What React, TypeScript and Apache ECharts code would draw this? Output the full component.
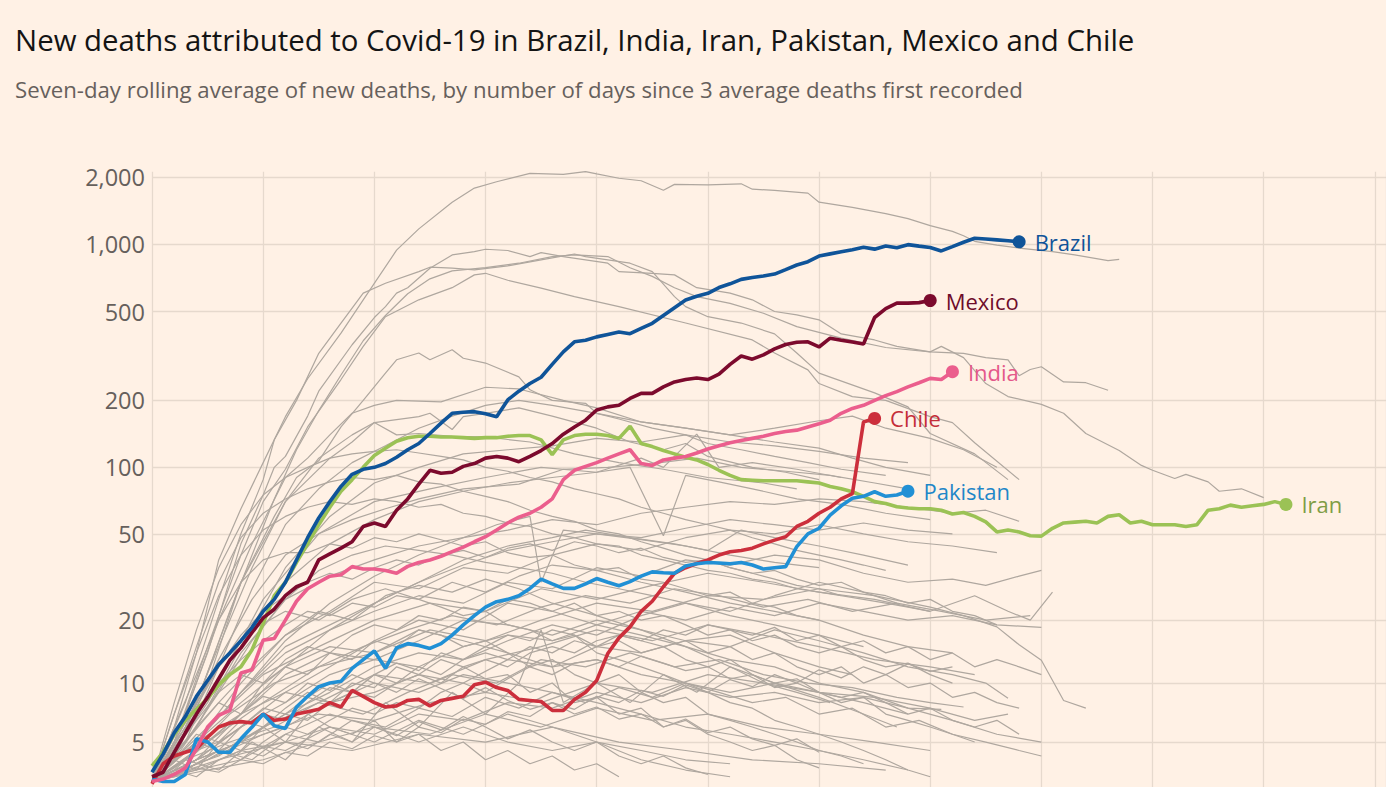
import React, { useEffect, useRef } from "react";
import * as echarts from "echarts";

// ---------- axis ticks ----------
const yTicks = [5, 10, 20, 50, 100, 200, 500, 1000, 2000];
const xMaxDay = 111;
const xInterval = 10;
const yBottomValue = 2.78;
const yTopValue = 2107;

// ---------- highlighted countries: [days since 3 avg deaths, 7-day avg deaths] ----------
const brazil = [[0,3.4],[1,4.3],[2,5.6],[3,6.8],[4,8.6],[5,10.3],[6,12.3],[7,14],[8,16],[9,18.5],[10,22],[11,25],[12,30],[13,38],[14,48],[15,59],[16,70],[17,82],[18,93],[19,98],[20,100],[21,104],[22,111],[23,120],[24,128],[25,142],[26,158],[27,175],[28,177],[29,178],[30,174],[31,169],[32,201],[33,220],[34,238],[35,254],[36,290],[37,330],[38,366],[39,372],[40,385],[41,395],[42,405],[43,398],[44,420],[45,443],[46,480],[47,520],[48,563],[49,585],[50,603],[51,640],[52,665],[53,696],[54,710],[55,721],[56,735],[57,770],[58,807],[59,835],[60,885],[61,905],[62,925],[63,945],[64,968],[65,950],[66,982],[67,963],[68,995],[69,980],[70,966],[71,933],[72,975],[73,1020],[74,1062],[75,1055],[76,1045],[77,1035],[78,1025]];
const mexico = [[0,3.2],[1,3.4],[2,4.4],[3,5.6],[4,7],[5,8.5],[6,10.5],[7,12.9],[8,14.8],[9,17.5],[10,20.5],[11,22.5],[12,26],[13,28.6],[14,30],[15,38],[16,40.5],[17,43],[18,46],[19,54],[20,56],[21,54],[22,64],[23,72],[24,84],[25,97],[26,94],[27,95],[28,101],[29,104],[30,110],[31,112],[32,110],[33,106],[34,112],[35,119],[36,128],[37,141],[38,152],[39,163],[40,181],[41,187],[42,190],[43,204],[44,215],[45,215],[46,230],[47,242],[48,248],[49,252],[50,248],[51,262],[52,290],[53,316],[54,306],[55,320],[56,340],[57,356],[58,364],[59,366],[60,347],[61,380],[62,372],[63,365],[64,358],[65,470],[66,515],[67,545],[68,545],[69,548],[70,560]];
const india = [[0,3],[1,3.1],[2,3.3],[3,3.6],[4,4.6],[5,6],[6,6.9],[7,7.3],[8,11.2],[9,11.6],[10,16.1],[11,16.4],[12,20],[13,24.5],[14,28],[15,30],[16,32],[17,32.5],[18,35.4],[19,34.5],[20,34.5],[21,34],[22,33],[23,35.5],[24,37],[25,38],[26,39.5],[27,41.5],[28,43.5],[29,46],[30,48.5],[31,52],[32,56],[33,59.5],[34,62],[35,66],[36,72],[37,88],[38,97],[39,101],[40,105],[41,110],[42,115],[43,120],[44,104],[45,102],[46,108],[47,110],[48,112],[49,116],[50,121],[51,125],[52,129],[53,132],[54,135],[55,138],[56,142],[57,145],[58,147],[59,152],[60,157],[61,163],[62,175],[63,184],[64,190],[65,200],[66,210],[67,219],[68,230],[69,240],[70,251],[71,248],[72,269]];
const chile = [[0,2.9],[1,3.8],[2,4.2],[3,4.4],[4,4.6],[5,5.3],[6,6],[7,6.3],[8,6.4],[9,6.3],[10,7],[11,6.5],[12,6.6],[13,7],[14,7.2],[15,7.4],[16,8],[17,7.6],[18,9.2],[19,8.6],[20,8],[21,7.6],[22,7.7],[23,8.2],[24,8.3],[25,7.7],[26,8.2],[27,8.4],[28,8.6],[29,9.8],[30,10.1],[31,9.5],[32,9.2],[33,8.3],[34,8.2],[35,8.1],[36,7.3],[37,7.3],[38,8.3],[39,9],[40,10.3],[41,13.9],[42,16.5],[43,18.6],[44,22],[45,24.5],[46,28.6],[47,33],[48,35],[49,36.6],[50,38],[51,40],[52,41.4],[53,42],[54,43],[55,45],[56,46.8],[57,48.5],[58,54],[59,57],[60,62],[61,66],[62,72],[63,76],[64,160],[65,166]];
const pakistan = [[0,3.1],[1,3],[2,3],[3,3.3],[4,5.2],[5,5],[6,4.4],[7,4.4],[8,5.2],[9,6],[10,7],[11,6.1],[12,5.9],[13,7.6],[14,8.6],[15,9.6],[16,10],[17,10.2],[18,11.8],[19,13],[20,14.3],[21,11.8],[22,14.8],[23,15.5],[24,15.2],[25,14.7],[26,15.5],[27,17],[28,19],[29,21],[30,23],[31,24.4],[32,25],[33,26],[34,28.1],[35,31],[36,29.5],[37,28.1],[38,28.1],[39,29.5],[40,31.2],[41,30],[42,28.9],[43,30.2],[44,32],[45,33.5],[46,33.2],[47,33],[48,35.6],[49,36.5],[50,37],[51,36.8],[52,36.5],[53,37],[54,36],[55,34.5],[56,35],[57,35.4],[58,43.7],[59,50],[60,53],[61,60.8],[62,67],[63,72.5],[64,74],[65,77.6],[66,74],[67,75],[68,78]];
const iran = [[0,3.7],[1,4.4],[2,5.5],[3,6.5],[4,7.4],[5,8.4],[6,9.8],[7,11],[8,12],[9,14.5],[10,19.3],[11,26],[12,30],[13,37],[14,45],[15,55],[16,66],[17,78],[18,88],[19,100],[20,113],[21,122],[22,131],[23,136],[24,138],[25,138],[26,137],[27,137],[28,136],[29,135],[30,136],[31,136],[32,138],[33,139],[34,139],[35,133],[36,114],[37,133],[38,139],[39,141],[40,141],[41,139],[42,135],[43,153],[44,128],[45,124],[46,119],[47,115],[48,111],[49,108],[50,103],[51,97],[52,92],[53,88],[54,87.5],[55,87],[56,87],[57,87],[58,87],[59,86],[60,85],[61,82],[62,80],[63,77.6],[64,74],[65,70],[66,68.7],[67,66.3],[68,65.5],[69,65],[70,65],[71,64],[72,61.5],[73,62.5],[74,60],[75,56.7],[76,51],[77,52],[78,51],[79,49],[80,48.8],[81,53],[82,56],[83,56.5],[84,57],[85,56],[86,60],[87,61],[88,56],[89,57],[90,55],[91,55],[92,55],[93,54],[94,55],[95,64],[96,65],[97,67.5],[98,66],[99,67],[100,68],[101,70],[102,68]];

// ---------- other countries (grey) ----------
const o01 = [[0,3],[2,6],[4,14],[6,38],[8,65],[10,105],[12,169],[14,250],[17,400],[19,564],[22,940],[24,1170],[27,1540],[29,1780],[31,1900],[34,2070],[37,2050],[39,2110],[40,2060],[42,1970],[44,1920],[46,1740],[47,1850],[50,1840],[53,1860],[54,1760],[56,1740],[59,1690],[60,1540],[63,1460],[66,1370],[68,1300],[70,1210],[72,1140],[73,1090],[74,1030],[76,990],[78,960],[81,926],[83,895],[86,844],[87,855]];
const o02 = [[0,3],[2,5],[5,14],[8,45],[10,75],[11,100],[12,112],[14,170],[15,220],[18,355],[20,470],[21,526],[22,604],[23,639],[25,780],[27,895],[29,926],[30,949],[32,937],[34,880],[35,917],[37,880],[41,822],[42,754],[45,740],[47,729],[49,639],[52,604],[54,564],[56,500],[58,483],[60,459],[62,397],[65,373],[67,349],[70,330],[71,349],[73,311],[75,238],[77,208],[80,192],[82,175],[84,142],[87,119],[89,102],[90,97],[92,89],[93,93],[95,86],[96,78],[98,80],[100,73]];
const o03 = [[0,3],[3,8],[6,25],[8,50],[10,88],[11,133],[13,200],[15,325],[17,444],[19,604],[21,669],[24,754],[25,789],[27,781],[29,767],[32,800],[35,851],[38,904],[39,880],[41,851],[43,822],[45,754],[47,583],[48,526],[50,474],[53,444],[56,397],[58,326],[60,265],[65,216],[68,187],[70,142],[74,115],[77,88]];
const o04 = [[0,3],[2,5],[5,15],[8,40],[10,70],[12,98],[14,152],[17,248],[19,349],[21,474],[24,564],[27,639],[29,729],[30,741],[32,690],[35,636],[38,583],[42,526],[48,444],[54,373],[56,326],[59,274],[60,238],[63,208],[66,200],[70,169],[72,159],[74,129],[78,88]];
const o05 = [[0,3],[2,4],[4,8],[7,22],[9,40],[11,72],[13,120],[15,180],[17,260],[19,370],[21,480],[23,600],[25,700],[27,760],[30,785],[33,822],[36,880],[38,895],[41,880],[43,785],[45,718],[47,639],[49,583],[52,544],[55,491],[58,428],[62,380],[66,345],[70,330],[73,325],[75,311],[77,304],[78,258],[79,275],[80,283],[82,242],[84,240],[86,222]];
const o06 = [[0,3],[2,4],[5,10],[8,30],[11,60],[13,90],[15,107],[17,152],[19,200],[21,265],[22,304],[24,326],[25,304],[27,337],[28,309],[30,294],[33,255],[34,223],[36,200],[39,194],[40,175],[42,165],[45,150],[48,140],[50,128],[53,120],[56,112],[59,105],[62,98],[66,92]];
const o07 = [[0,3],[3,7],[6,20],[9,45],[12,90],[14,110],[16,140],[18,175],[20,190],[22,200],[26,197],[30,229],[33,225],[37,200],[40,185],[44,160],[48,150],[52,140],[56,130],[60,122],[63,110],[66,100],[70,92]];
const o08 = [[0,3],[3,6],[6,15],[9,35],[12,70],[15,110],[18,140],[20,159],[24,169],[25,175],[27,148],[28,169],[30,175],[33,185],[36,170],[40,150],[43,130],[46,120],[48,128],[50,112],[54,100],[57,95],[60,88]];
const o09 = [[0,3],[4,8],[8,30],[12,70],[16,110],[18,130],[20,159],[22,140],[24,142],[27,138],[30,137],[34,130],[38,115],[42,105],[46,98],[50,90],[55,85],[58,80]];
const o10 = [[0,3],[3,5],[6,12],[9,28],[12,55],[15,80],[18,105],[21,125],[24,150],[27,170],[30,190],[33,200],[36,190],[40,175],[44,160],[48,150],[52,140],[56,150],[60,162],[63,170],[66,150],[70,135],[73,120],[76,100]];
const o11 = [[0,3],[4,6],[8,15],[12,35],[16,60],[20,85],[24,100],[28,115],[32,120],[36,125],[40,135],[44,130],[48,140],[52,130],[56,125],[60,118],[64,110],[68,105]];
const o12 = [[0,3],[5,8],[10,25],[15,50],[20,70],[25,80],[30,90],[35,100],[40,95],[44,110],[46,100],[49,141],[51,100],[54,105],[58,98],[62,90]];
const o13 = [[0,3],[4,5],[8,9],[12,14],[16,18],[20,22],[24,26],[28,24],[32,30],[36,28],[40,35],[44,32],[48,38],[52,36],[56,40],[60,38],[64,33],[68,30],[72,31],[75,29],[78,32],[80,34]];
const o14 = [[0,3],[5,6],[10,11],[15,15],[20,20],[25,24],[30,22],[35,28],[40,25],[45,29],[50,33],[55,30],[60,27],[65,25],[70,22],[74,26],[77,22],[79,20],[81,27]];
const o15 = [[0,3],[3,4],[7,7],[11,10],[15,12],[19,15],[23,18],[27,21],[31,19],[35,23],[39,26],[43,24],[47,28],[51,26],[55,23],[59,25],[63,22],[67,24],[71,22],[75,20],[79,21]];
const o16 = [[0,3],[4,4],[8,6],[12,8],[16,11],[20,13],[24,12],[28,15],[32,17],[36,16],[40,19],[44,22],[48,20],[52,23],[56,21],[60,24],[64,22],[68,20],[72,21],[76,19],[80,18.5]];
const o17 = [[0,3],[5,5],[10,8],[15,12],[20,14],[25,18],[30,16],[35,20],[40,24],[45,22],[50,26],[55,25],[60,28],[65,26],[70,23],[73,21],[76,18.6],[78,15.3],[80,12.9],[82,8.2],[84,7.5]];
const o18 = [[0,3],[4,6],[8,14],[12,25],[16,32],[20,38],[24,44],[28,48],[32,52],[36,58],[40,55],[44,62],[48,66],[52,70],[56,68],[60,72],[64,70],[68,66],[72,62],[75,64],[78,57]];
const o19 = [[0,3],[4,5],[8,10],[12,17],[16,22],[20,30],[24,28],[28,35],[32,33],[36,40],[40,45],[44,42],[48,48],[52,52],[56,50],[60,55],[64,50],[68,46],[72,44],[76,41]];
const o20 = [[0,3],[4,4],[8,5],[12,6],[16,8],[20,9],[24,11],[28,10],[32,13],[36,12],[40,15],[44,14],[48,16],[52,15],[56,18],[60,16],[64,14],[68,12],[72,11],[75,10],[77,8.4]];
const o21 = [[0,3],[5,4],[10,5.5],[15,7],[20,6.5],[25,8],[30,9],[35,8],[40,10],[45,9],[50,11],[55,10],[60,9],[65,8.5],[70,7.5],[74,6.5],[77,7]];
const o22 = [[0,3],[3,4],[7,5],[11,6],[15,8],[19,7],[23,9],[27,11],[31,10],[35,13],[39,12],[43,14],[47,12],[51,13],[55,11],[59,10],[63,9.5],[67,8.5],[70,8],[73,7.6]];
const o23 = [[0,3],[4,3.5],[8,4.5],[12,5],[16,6],[20,5.5],[24,7],[28,6.5],[32,8],[36,7.5],[40,9],[44,8],[48,9.5],[52,8.5],[56,9],[60,8],[64,8.5],[68,7.5],[71,7.4]];
const o24 = [[0,3],[4,4],[8,6],[12,9],[16,12],[20,16],[24,20],[28,18],[32,24],[36,22],[40,19],[44,17],[48,15],[52,13],[56,12],[60,10],[64,9],[68,7.5],[72,6.5],[76,5.5],[80,5]];
const o25 = [[0,3],[3,5],[6,8],[9,12],[12,17],[15,22],[18,20],[21,26],[24,29],[27,27],[30,31],[33,28],[36,24],[40,21],[44,18],[48,15],[52,12],[56,10],[60,8.5],[64,7],[67,6]];
const o26 = [[0,3],[5,3.5],[10,4],[15,5],[20,6],[25,5.5],[30,7],[35,6],[40,7.5],[45,6.5],[50,7],[55,6],[60,5.5],[65,5],[70,4.5]];
const o27 = [[0,3],[4,4.5],[8,7],[12,9],[16,8],[20,10],[24,9],[28,11],[32,10],[36,9],[40,8],[44,7],[48,6],[52,5.5],[56,5],[60,4.5],[64,4],[68,3.5]];
const o28 = [[0,3],[3,6],[6,12],[9,18],[12,22],[15,20],[18,25],[21,28],[24,25],[27,30],[30,27],[33,32],[36,36],[40,34],[44,30],[48,27],[52,24],[56,22],[60,20],[64,17],[68,15],[72,14]];
const o29 = [[0,3],[4,3.5],[8,4],[12,5.5],[16,7],[20,6],[24,5],[28,6],[32,5],[36,4.5],[40,5],[44,4],[48,3.5],[52,3.2]];
const o30 = [[0,3],[4,5],[8,8],[12,12],[16,15],[20,14],[24,18],[28,16],[32,14],[36,12],[40,13],[44,11],[48,10],[52,9],[56,10],[60,9],[64,8],[68,7]];
const o31 = [[0,3],[4,4],[8,5],[12,7],[16,9],[20,12],[24,14],[28,13],[32,16],[36,19],[40,17],[44,21],[48,24],[52,22],[56,26],[60,30],[64,27],[67,24]];
const o32 = [[0,3],[5,4],[10,6],[15,8],[20,11],[25,10],[30,13],[35,15],[40,18],[45,16],[50,19],[55,17],[60,15],[65,13],[70,12],[74,11]];
const o33 = [[0,3],[4,4],[8,5],[12,4.5],[16,6],[20,5],[24,6.5],[28,5.5],[32,7],[36,6],[40,5],[44,4.5],[48,4],[52,3.8]];
const o34 = [[0,3],[3,4],[6,3.5],[9,5],[12,4],[15,6],[18,5],[21,8],[24,6],[27,9],[30,7],[33,10],[35,18],[37,8],[40,10],[43,8],[46,11],[49,9],[52,12],[55,10],[58,9],[61,8]];
const o35 = [[0,3],[4,5],[8,7],[12,11],[16,14],[20,13],[24,16],[28,20],[32,19],[36,17],[40,20],[44,18],[48,16],[52,17],[56,14],[60,12],[63,11]];
const o36 = [[0,3],[4,5],[8,9],[12,15],[16,19],[20,24],[24,30],[28,36],[32,42],[36,46],[40,50],[44,48],[48,53],[52,58],[56,55],[60,52],[64,56],[68,52],[72,50]];
const o37 = [[0,3],[3,6],[6,13],[9,25],[12,40],[15,50],[18,58],[21,65],[24,72],[28,80],[33,84],[37,98],[41,100],[45,104],[49,110],[53,100],[57,96],[61,92],[65,85],[68,80]];
const o38 = [[0,3],[4,7],[8,16],[12,30],[16,45],[20,58],[24,70],[28,78],[32,85],[36,90],[40,95],[43,100],[46,49],[48,92],[51,86],[54,80],[58,72],[62,68],[66,62],[70,58]];
const o39 = [[0,3],[4,4],[8,7],[12,12],[16,18],[20,24],[24,30],[28,38],[32,44],[36,48],[39,52],[43,48],[47,45],[50,42],[53,52],[56,48],[60,44],[64,40],[68,36]];
const o40 = [[0,3],[4,5],[8,9],[12,16],[16,24],[20,32],[24,40],[28,48],[31,55],[34,60],[35,30],[37,52],[40,50],[44,47],[48,44],[52,40],[56,37],[60,35]];
const o41 = [[0,3],[6,4],[12,5],[18,4.5],[24,5.5],[30,5],[36,6],[42,5],[48,4.5],[54,4],[60,3.8],[66,3.5]];
const o42 = [[0,3],[3,5],[6,9],[9,16],[12,25],[15,34],[18,40],[21,44],[24,42],[27,40],[30,37],[33,35],[36,33],[39,30],[42,28],[45,26],[48,24],[52,21],[56,19],[60,17],[64,15]];
const o43 = [[0,3],[2,4],[4,6],[6,8],[8,7],[10,10],[12,12],[14,11],[16,14],[18,13],[20,16],[22,15],[24,18],[26,17],[28,15],[30,16],[32,14],[34,12],[36,13],[38,11],[40,10],[42,11],[44,9],[46,8],[48,8.5],[50,7],[52,6.5],[54,6],[56,5.5],[58,5],[60,4.5],[62,4.2],[64,3.8]];
const o44 = [[0,3],[2,3.5],[4,4.5],[6,5],[8,6.5],[10,6],[12,7.5],[14,9],[16,8],[18,10],[20,9.5],[22,12],[24,11],[26,13],[28,12],[30,10.5],[32,11],[34,9],[36,10],[38,8],[40,8.5],[42,7],[44,7.5],[46,6],[48,6.5],[50,5.5],[52,5],[54,4.5],[56,4.8],[58,4],[60,3.6]];
const o45 = [[0,3],[2,4],[4,5.5],[6,5],[8,6],[10,7.5],[12,7],[14,8.5],[16,10],[18,9],[20,11],[22,12.5],[24,11.5],[26,14],[28,13],[30,15],[32,17],[34,16],[36,18],[38,17],[40,15],[42,16],[44,14],[46,15],[48,13],[50,12],[52,13],[54,11],[56,10],[58,10.5],[60,9],[62,8],[64,8.5],[66,7],[68,6.5],[70,6],[72,5.5],[74,5]];
const o46 = [[0,3],[2,3.2],[4,3.8],[6,4.5],[8,4],[10,5],[12,6],[14,5.5],[16,6.5],[18,7.5],[20,7],[22,8],[24,7.5],[26,9],[28,10],[30,9],[32,10.5],[34,12],[36,11],[38,12.5],[40,13],[42,12],[44,13.5],[46,12.5],[48,11.5],[50,12],[52,10.5],[54,11],[56,9.5],[58,10],[60,9],[62,8.5],[64,9],[66,8],[68,7],[70,7.5],[72,6.5],[74,6],[76,6.5],[78,5.5]];
const o47 = [[0,3],[2,5],[4,7],[6,10],[8,13],[10,16],[12,19],[14,22],[16,21],[18,24],[20,23],[22,26],[24,25],[26,23],[28,21],[30,22],[32,19],[34,18],[36,16],[38,17],[40,14],[42,13],[44,12],[46,11],[48,10],[50,9],[52,8],[54,7.5],[56,6.5],[58,6],[60,5.5],[62,5],[64,4.5],[66,4],[68,3.5],[70,3.2]];
const o48 = [[0,3],[2,3.5],[4,3.2],[6,4],[8,4.5],[10,4.2],[12,5],[14,4.6],[16,5.5],[18,5],[20,6],[22,5.4],[24,6.4],[26,5.8],[28,6.8],[30,6],[32,5.2],[34,5.8],[36,5],[38,4.5],[40,5],[42,4.2],[44,3.8],[46,4.2],[48,3.6],[50,3.3]];
const o49 = [[0,3],[2,4.5],[4,6.5],[6,9],[8,11],[10,10],[12,13],[14,15],[16,14],[18,17],[20,19],[22,18],[24,21],[26,20],[28,23],[30,22],[32,25],[34,24],[36,22],[38,24],[40,21],[42,22],[44,20],[46,21],[48,19],[50,17],[52,18],[54,16],[56,17],[58,15],[60,14],[62,15],[64,13],[66,12],[68,12.5],[70,11],[72,10]];
const o50 = [[0,3],[2,3.6],[4,4.4],[6,5.6],[8,7],[10,8.6],[12,8],[14,10],[16,9.2],[18,11],[20,10],[22,9],[24,10.5],[26,9.4],[28,8.4],[30,9.5],[32,8.2],[34,7.4],[36,8],[38,7],[40,7.6],[42,6.6],[44,7],[46,6],[48,6.6],[50,5.6],[52,6],[54,5.2],[56,4.8],[58,5.2],[60,4.4]];
const o51 = [[0,3],[2,6],[4,11],[6,20],[8,30],[10,38],[12,41],[14,41],[16,45],[18,43],[20,48],[22,46],[24,50],[26,47],[28,44],[30,46],[32,41],[34,39],[36,40],[38,36],[40,34],[42,35],[44,31],[46,30],[48,28],[50,26],[52,27],[54,24],[56,23],[58,21],[60,20]];
const o52 = [[0,3],[2,7],[4,14],[6,26],[8,40],[10,52],[12,60],[14,66],[16,70],[18,68],[20,72],[22,70],[24,66],[26,68],[28,62],[30,60],[32,56],[34,54],[36,50],[38,48],[40,45],[42,44],[44,40],[46,38],[48,36],[50,34],[52,33],[54,31],[56,30],[58,28],[60,27],[62,26]];
const o53 = [[0,3],[2,8],[4,18],[6,35],[8,55],[10,75],[12,90],[14,100],[16,110],[18,115],[20,118],[22,120],[24,116],[26,112],[28,108],[30,100],[32,96],[34,90],[36,86],[38,80],[40,76],[42,72],[44,66],[46,62],[48,58],[50,55],[52,52],[54,48],[56,45],[58,42],[60,40],[62,38],[64,36],[66,34]];
const o54 = [[0,3],[3,3.5],[6,4.5],[9,4],[12,5.5],[15,5],[18,6.5],[21,6],[24,7.5],[27,6.8],[30,8.5],[33,7.5],[36,9],[39,8],[42,9.5],[45,8.5],[48,10],[51,9],[54,8],[57,8.5],[60,7],[63,7.5],[66,6],[69,6.5],[72,5.5],[75,5],[78,4.5],[80,4.2]];
const o55 = [[0,3],[2,4],[4,5],[6,4.5],[8,6],[10,7],[12,6.5],[14,8],[16,9.5],[18,9],[20,11],[22,10],[24,12],[26,11],[28,13],[30,14],[32,13],[34,15],[36,14],[38,16],[40,15],[42,17],[44,16],[46,18],[48,17],[50,19],[52,18],[54,17],[56,18.5],[58,16],[60,17],[62,15],[64,16],[66,14],[68,15],[70,13],[72,14],[74,12],[76,13],[78,12],[80,11]];
const o56 = [[0,3],[2,3.3],[4,3.8],[6,4.2],[8,5],[10,6],[12,7],[14,6.5],[16,8],[18,9],[20,8.5],[22,10],[24,11],[26,10],[28,12],[30,13],[32,12],[34,14],[36,15],[38,14],[40,16],[42,17],[44,16],[46,15],[48,16],[50,14],[52,15],[54,13],[56,14],[58,12],[60,11],[62,12],[64,10],[66,11],[68,9.5],[70,10],[72,8.5],[74,9],[76,8],[78,7.5]];
const o57 = [[0,3],[2,3.2],[4,3.6],[6,3.4],[8,4],[10,3.8],[12,4.4],[14,4.2],[16,5],[18,4.6],[20,5.4],[22,5],[24,6],[26,5.6],[28,6.6],[30,6.2],[32,7.2],[34,6.8],[36,8],[38,7.4],[40,8.6],[42,8],[44,9.2],[46,8.6],[48,9.8],[50,9],[52,10.4],[54,9.6],[56,11],[58,10],[60,11.6],[62,10.6],[64,12],[66,11],[68,12.4],[70,11.4],[72,12]];
const o58 = [[0,3],[2,4],[4,3.5],[6,5],[8,4.5],[10,6],[12,5],[14,7],[16,6],[18,5.5],[20,6.5],[22,5],[24,5.5],[26,4.5],[28,5],[30,4],[32,4.5],[34,3.8],[36,4.2],[38,3.5],[40,3.8],[42,3.2]];
const o59 = [[0,3],[2,5],[4,8],[6,12],[8,17],[10,22],[12,26],[14,30],[16,33],[18,31],[20,35],[22,38],[24,36],[26,40],[28,42],[30,39],[32,43],[34,45],[36,42],[38,46],[40,44],[42,41],[44,43],[46,39],[48,37],[50,38],[52,35],[54,33],[56,34],[58,31],[60,29],[62,30],[64,27],[66,26],[68,24],[70,25],[72,22],[74,21],[76,19]];
const o60 = [[0,3],[2,7],[4,15],[6,30],[8,48],[10,62],[12,72],[14,80],[16,86],[18,90],[20,88],[22,92],[24,86],[26,84],[28,78],[30,74],[32,70],[34,64],[36,60],[38,57],[40,52],[42,50],[44,46],[46,43],[48,40],[50,38],[52,35],[54,33],[56,31],[58,29],[60,28],[62,26],[64,25],[66,24],[68,23],[70,22]];

const others = [o01,o02,o03,o04,o05,o06,o07,o08,o09,o10,o11,o12,o13,o14,o15,o16,o17,o18,o19,o20,o21,o22,o23,o24,o25,o26,o27,o28,o29,o30,o31,o32,o33,o34,o35,o36,o37,o38,o39,o40,o41,o42,o43,o44,o45,o46,o47,o48,o49,o50,o51,o52,o53,o54,o55,o56,o57,o58,o59,o60];

const highlighted = [
  { name: "Iran", data: iran, color: "#9bc255", labelColor: "#7f9d45" },
  { name: "Chile", data: chile, color: "#cc2f3c", labelColor: "#c42d38" },
  { name: "Pakistan", data: pakistan, color: "#2190d5", labelColor: "#1f87c8" },
  { name: "India", data: india, color: "#eb5e8d", labelColor: "#e4588a" },
  { name: "Mexico", data: mexico, color: "#7c0a2d", labelColor: "#6e0c2a" },
  { name: "Brazil", data: brazil, color: "#0f5499", labelColor: "#0f5499" },
];

const FONT = "'Open Sans', Lato, sans-serif";
const tr = (v: number) => Math.log10(v + 1);
const toData = (arr: number[][]) => arr.map(([d, v]) => [d, tr(v)]);

export default function App() {
  const ref = useRef<HTMLDivElement>(null);
  useEffect(() => {
    if (!ref.current) return;
    const chart = echarts.init(ref.current, undefined, { renderer: "svg" });
    const tickT = yTicks.map(tr);
    const series: any[] = [];
    others.forEach((arr, i) => {
      series.push({
        type: "line",
        name: "other" + i,
        data: toData(arr),
        symbol: "none",
        silent: true,
        lineStyle: { color: "#afa79f", width: 1.2 },
        z: 2,
      });
    });
    highlighted.forEach((h) => {
      series.push({
        type: "line",
        name: h.name,
        data: toData(h.data),
        symbol: "none",
        silent: true,
        lineStyle: { color: h.color, width: 3.6 },
        z: 4,
      });
    });
    highlighted.forEach((h) => {
      const last = h.data[h.data.length - 1];
      series.push({
        type: "scatter",
        name: h.name + " end",
        data: [[last[0], tr(last[1])]],
        symbol: "circle",
        symbolSize: 13,
        silent: true,
        itemStyle: { color: h.color, opacity: 1 },
        label: {
          show: true,
          position: "right",
          distance: 9,
          formatter: h.name,
          color: h.labelColor,
          fontSize: 22,
          fontFamily: FONT,
        },
        z: 6,
      });
    });
    chart.setOption({
      animation: false,
      backgroundColor: "#fff1e5",
      title: [
        {
          text: "New deaths attributed to Covid-19 in Brazil, India, Iran, Pakistan, Mexico and Chile",
          left: 15,
          top: 25,
          padding: 0,
          textStyle: { fontFamily: FONT, fontSize: 29.4, fontWeight: "normal", color: "#141414" },
        },
        {
          text: "Seven-day rolling average of new deaths, by number of days since 3 average deaths first recorded",
          left: 15,
          top: 78,
          padding: 0,
          textStyle: { fontFamily: FONT, fontSize: 22.2, fontWeight: "normal", color: "#66605c" },
        },
      ],
      grid: { left: 152, right: 0, top: 171.7, bottom: 0, containLabel: false, outerBoundsMode: "none" },
      xAxis: {
        type: "value",
        min: 0,
        max: xMaxDay,
        interval: xInterval,
        axisLine: { show: false },
        axisTick: { show: false },
        axisLabel: { show: false },
        splitLine: { show: true, lineStyle: { color: "#e6d9cd", width: 1.3 } },
      },
      yAxis: {
        type: "value",
        min: tr(yBottomValue),
        max: tr(yTopValue),
        axisLine: { show: false },
        axisTick: { show: false, customValues: tickT },
        axisLabel: {
          customValues: tickT,
          margin: 7,
          color: "#66605c",
          fontSize: 23.5,
          fontFamily: FONT,
          formatter: (t: number) => Math.round(Math.pow(10, t) - 1).toLocaleString("en-US"),
        },
        splitLine: { show: true, lineStyle: { color: "#e6d9cd", width: 1.3 } },
      },
      series,
    });
    return () => chart.dispose();
  }, []);
  return (
    <div
      ref={ref}
      style={{ position: "absolute", left: 0, top: 0, width: 1386, height: 787, background: "#fff1e5" }}
    />
  );
}
